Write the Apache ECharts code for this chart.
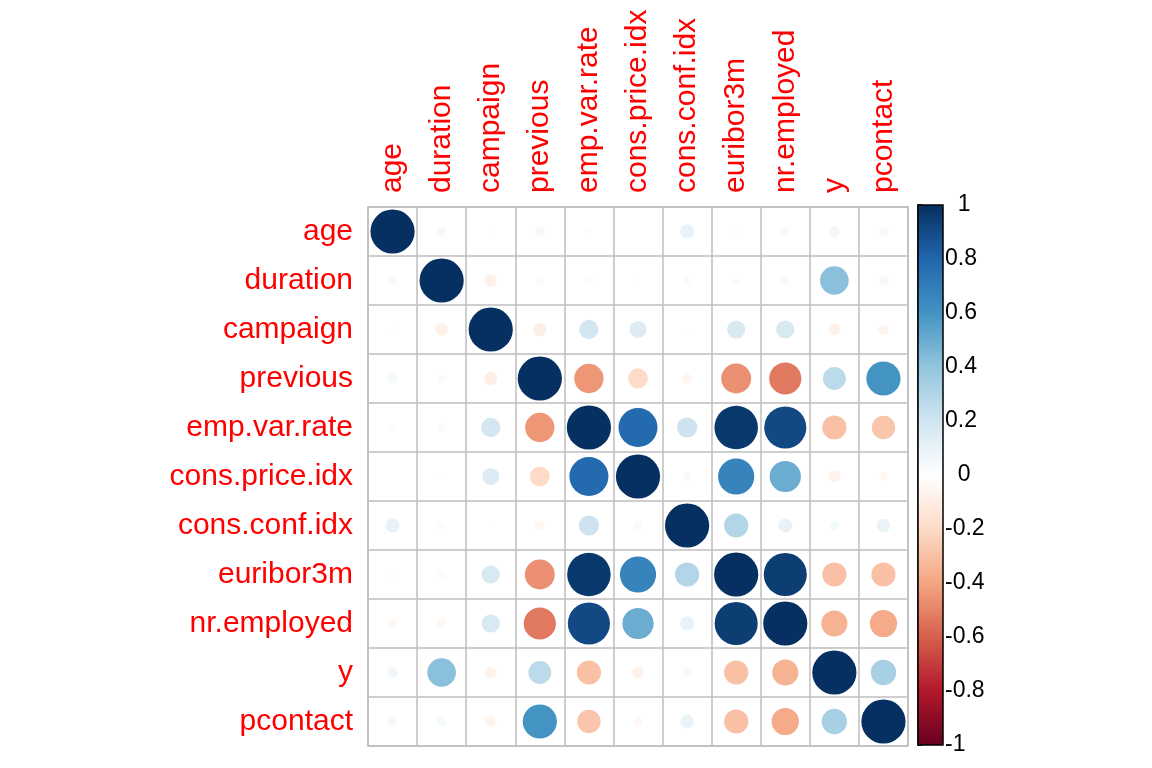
<!DOCTYPE html>
<html lang="en">

<head>
    <meta charset="utf-8" />
    <title>corrplot</title>
    <style>
        html,
        body,
        #myChart {
            width: 100%;
            height: 100%;
            margin: 0;
            padding: 0;
            overflow: hidden;
            background: #ffffff;
        }
    </style>
</head>

<body>
    <div id="myChart"></div>
    <script src="https://cdn.jsdelivr.net/npm/echarts@6/dist/echarts.min.js"></script>
    <script>
        // variable names, same order for rows and columns
        var vars = ['age', 'duration', 'campaign', 'previous', 'emp.var.rate', 'cons.price.idx',
            'cons.conf.idx', 'euribor3m', 'nr.employed', 'y', 'pcontact'];

        // correlation rows
        var rAge = [1, 0.045, 0.01, 0.05, -0.02, 0, 0.10, -0.01, -0.045, 0.06, 0.045];
        var rDuration = [0.045, 1, -0.08, 0.03, -0.03, -0.01, -0.03, -0.03, -0.045, 0.42, 0.05];
        var rCampaign = [0.01, -0.08, 1, -0.09, 0.19, 0.15, -0.005, 0.17, 0.17, -0.07, -0.06];
        var rPrevious = [0.05, 0.03, -0.09, 1, -0.44, -0.2, -0.05, -0.46, -0.53, 0.27, 0.60];
        var rEmpVar = [-0.02, -0.03, 0.19, -0.44, 1, 0.78, 0.21, 0.97, 0.91, -0.30, -0.28];
        var rConsPrice = [0, -0.01, 0.15, -0.2, 0.78, 1, 0.04, 0.67, 0.50, -0.07, -0.04];
        var rConsConf = [0.10, -0.03, -0.005, -0.05, 0.21, 0.04, 1, 0.30, 0.10, 0.05, 0.09];
        var rEuribor = [-0.01, -0.03, 0.17, -0.46, 0.97, 0.67, 0.30, 1, 0.95, -0.30, -0.30];
        var rNrEmp = [-0.045, -0.045, 0.17, -0.53, 0.91, 0.50, 0.10, 0.95, 1, -0.35, -0.38];
        var rY = [0.06, 0.42, -0.07, 0.27, -0.30, -0.07, 0.05, -0.30, -0.35, 1, 0.33];
        var rPcontact = [0.045, 0.05, -0.06, 0.60, -0.28, -0.04, 0.09, -0.30, -0.38, 0.33, 1];

        var corrRows = [rAge, rDuration, rCampaign, rPrevious, rEmpVar, rConsPrice,
            rConsConf, rEuribor, rNrEmp, rY, rPcontact];

        // colour bar ticks
        var barMin = -1, barMax = 1, barStep = 0.2;
        var palette = ['#67001F', '#B2182B', '#D6604D', '#F4A582', '#FDDBC7', '#FFFFFF',
            '#D1E5F0', '#92C5DE', '#4393C3', '#2166AC', '#053061'];

        var gridLeft = 368, gridTop = 207, gridW = 540, gridH = 539;
        var cell = gridW / vars.length;

        var points = [];
        for (var i = 0; i < corrRows.length; i++) {
            for (var j = 0; j < corrRows[i].length; j++) {
                points.push([j, i, corrRows[i][j]]);
            }
        }

        var labelFont = '"Liberation Sans", Arial, sans-serif';
        var myChart = echarts.init(document.getElementById('myChart'));
        var option = {
            backgroundColor: '#ffffff',
            animation: false,
            grid: [{
                left: gridLeft, top: gridTop, width: gridW, height: gridH,
                show: true, borderColor: '#BEBEBE', borderWidth: 1.5
            }, {
                left: 918, top: gridTop - 2, width: 25, height: gridH + 1,
                show: true, borderColor: '#000', borderWidth: 1.5,
                backgroundColor: 'transparent', z: 10
            }],
            xAxis: [{
                type: 'category',
                data: vars,
                position: 'top',
                gridIndex: 0,
                axisLine: { show: false },
                axisTick: { show: false },
                splitLine: { show: true, lineStyle: { color: '#BEBEBE', width: 1.5 } },
                axisLabel: {
                    rotate: -90, color: '#FF0000', fontSize: 30, margin: 14,
                    fontFamily: labelFont, interval: 0
                }
            }, {
                type: 'value', gridIndex: 1, show: false
            }],
            yAxis: [{
                type: 'category',
                data: vars,
                inverse: true,
                gridIndex: 0,
                axisLine: { show: false },
                axisTick: { show: false },
                splitLine: { show: true, lineStyle: { color: '#BEBEBE', width: 1.5 } },
                axisLabel: {
                    color: '#FF0000', fontSize: 30, margin: 15,
                    fontFamily: labelFont, interval: 0
                }
            }, {
                type: 'value',
                gridIndex: 1,
                position: 'right',
                min: barMin, max: barMax, interval: barStep,
                axisLine: { show: true, lineStyle: { color: '#000', width: 1.5 } },
                axisTick: { show: true, inside: false, length: 4, lineStyle: { color: '#000', width: 1.5 } },
                splitLine: { show: false },
                axisLabel: {
                    color: '#000', fontSize: 23, margin: 2, fontFamily: labelFont,
                    formatter: function (v) {
                        return (v === 0 || v === 1) ? '  ' + v : String(v);
                    }
                }
            }],
            visualMap: {
                type: 'continuous',
                min: barMin, max: barMax,
                dimension: 2,
                seriesIndex: 0,
                calculable: false,
                orient: 'vertical',
                left: 918, top: gridTop - 2,
                itemWidth: 25, itemHeight: gridH + 1,
                padding: 0,
                text: null,
                inRange: { color: palette }
            },
            series: [{
                type: 'scatter',
                xAxisIndex: 0,
                yAxisIndex: 0,
                data: points,
                symbol: 'circle',
                symbolSize: function (val) {
                    return 0.9 * cell * Math.sqrt(Math.abs(val[2]));
                },
                itemStyle: { opacity: 1 }
            }]
        };
        myChart.setOption(option);
    </script>
</body>

</html>
